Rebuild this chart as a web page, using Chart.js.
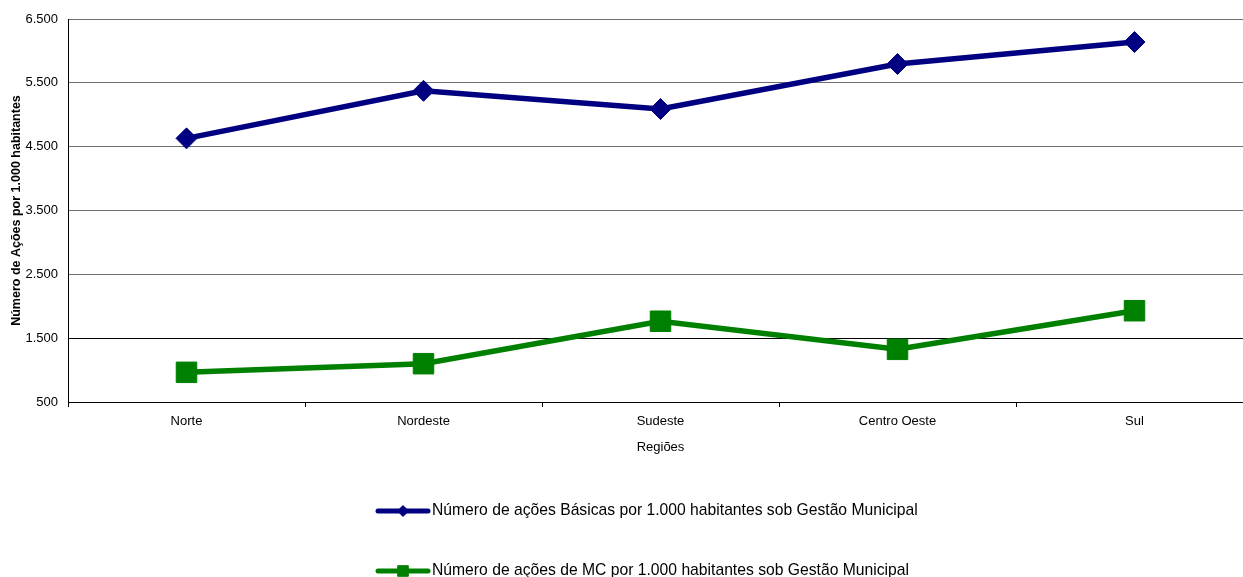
<!DOCTYPE html>
<html>
<head>
<meta charset="utf-8">
<script src="https://cdn.jsdelivr.net/npm/chart.js@4/dist/chart.umd.min.js"></script>
<style>
  html, body { margin: 0; padding: 0; overflow: hidden; background: #fff; }
  canvas { display: block; }
</style>
</head>
<body>
<canvas id="grafico" width="1270" height="577"></canvas>
<script>
// Regiões e valores (número de ações por 1.000 habitantes)
const regioes = ['Norte', 'Nordeste', 'Sudeste', 'Centro Oeste', 'Sul'];
const acoesBasicas = [4630, 5375, 5090, 5795, 6140];
const acoesMC = [965, 1100, 1765, 1325, 1930];

// Marcas do eixo vertical
const yTicks = [500, 1500, 2500, 3500, 4500, 5500, 6500];
const yTickLabels = ['500', '1.500', '2.500', '3.500', '4.500', '5.500', '6.500'];

const serieNomes = [
  'Número de ações Básicas por 1.000 habitantes sob Gestão Municipal',
  'Número de ações de MC por 1.000 habitantes sob Gestão Municipal'
];

const FONTE = "'Liberation Sans', Arial, sans-serif";

// Legenda em duas linhas, abaixo do título do eixo X
const legendaInferior = {
  id: 'legendaInferior',
  afterDraw(chart, args, opts) {
    const ctx = chart.ctx;
    ctx.save();
    chart.data.datasets.forEach((ds, i) => {
      const y = opts.top + i * opts.rowGap;
      const x0 = opts.left;
      const x1 = opts.left + opts.sampleWidth;
      ctx.strokeStyle = ds.borderColor;
      ctx.lineWidth = opts.lineWidth;
      ctx.lineCap = 'round';
      ctx.beginPath();
      ctx.moveTo(x0, y);
      ctx.lineTo(x1, y);
      ctx.stroke();

      ctx.lineCap = 'butt';
      ctx.fillStyle = ds.backgroundColor;
      ctx.strokeStyle = ds.borderColor;
      ctx.lineWidth = 1;
      const cx = (x0 + x1) / 2;
      const r = opts.markerRadius[i];
      if (Chart.helpers && Chart.helpers.drawPoint) {
        Chart.helpers.drawPoint(ctx, { pointStyle: ds.pointStyle, radius: r, borderWidth: 1, rotation: 0 }, cx, y);
      } else {
        ctx.beginPath();
        if (ds.pointStyle === 'rectRot') {
          ctx.moveTo(cx - r, y); ctx.lineTo(cx, y - r); ctx.lineTo(cx + r, y); ctx.lineTo(cx, y + r);
        } else {
          const s = Math.SQRT1_2 * r;
          ctx.rect(cx - s, y - s, 2 * s, 2 * s);
        }
        ctx.closePath();
        ctx.fill();
        ctx.stroke();
      }

      ctx.fillStyle = '#000';
      ctx.font = opts.fontSize + 'px ' + FONTE;
      ctx.textBaseline = 'middle';
      ctx.textAlign = 'left';
      ctx.fillText(ds.label, x1 + opts.gap, y);
    });
    ctx.restore();
  }
};

new Chart(document.getElementById('grafico'), {
  type: 'line',
  data: {
    labels: regioes,
    datasets: [
      {
        label: serieNomes[0],
        data: acoesBasicas,
        borderColor: '#000080',
        backgroundColor: '#000080',
        borderWidth: 5.5,
        pointStyle: 'rectRot',
        pointRadius: 10.5,
        pointHoverRadius: 10.5,
        pointBorderWidth: 1,
        tension: 0,
        clip: false
      },
      {
        label: serieNomes[1],
        data: acoesMC,
        borderColor: '#008000',
        backgroundColor: '#008000',
        borderWidth: 5.5,
        pointStyle: 'rect',
        pointRadius: 14.5,
        pointHoverRadius: 14.5,
        pointBorderWidth: 1,
        tension: 0,
        clip: false
      }
    ]
  },
  options: {
    responsive: false,
    animation: false,
    events: [],
    layout: { padding: { top: 19, right: 17, bottom: 117, left: 0 } },
    plugins: {
      legend: { display: false },
      tooltip: { enabled: false },
      legendaInferior: {
        left: 378, sampleWidth: 50, gap: 4, top: 511, rowGap: 60,
        lineWidth: 5, markerRadius: [5.5, 7.5], fontSize: 15.7
      }
    },
    scales: {
      x: {
        type: 'category',
        offset: true,
        grid: { offset: true, drawOnChartArea: false, drawTicks: true, tickLength: 5, color: '#000' },
        border: { color: '#000', width: 1 },
        ticks: { font: { family: FONTE, size: 13 }, color: '#000', padding: 7, maxRotation: 0, autoSkip: false },
        title: {
          display: true, text: 'Regiões',
          font: { family: FONTE, size: 13 }, color: '#000',
          padding: { top: 4, bottom: 5 }
        },
        afterFit(s) { s.height = 58; }
      },
      y: {
        min: 500,
        max: 6500,
        afterBuildTicks(s) { s.ticks = yTicks.map(v => ({ value: v })); },
        ticks: {
          callback: v => yTickLabels[yTicks.indexOf(v)],
          font: { family: FONTE, size: 13 }, color: '#000', padding: 10
        },
        grid: {
          drawTicks: false,
          color: c => (c.tick && c.tick.value <= 1500) ? '#000' : '#6e6e6e',
          lineWidth: 1
        },
        border: { color: '#000', width: 1 },
        title: {
          display: true, text: 'Número de Ações por 1.000 habitantes',
          font: { family: FONTE, size: 12.5, weight: 'bold' }, color: '#000',
          padding: { top: 9, bottom: 0 }
        },
        afterFit(s) { s.width = 68; }
      }
    }
  },
  plugins: [legendaInferior]
});
</script>
</body>
</html>
